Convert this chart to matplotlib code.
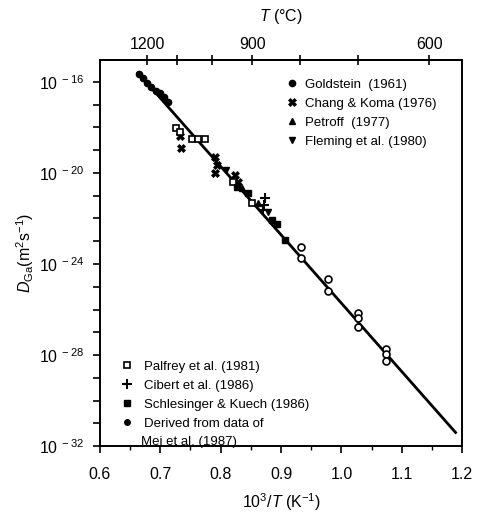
import numpy as np
import matplotlib
matplotlib.use("Agg")
import matplotlib.pyplot as plt
from matplotlib.ticker import FixedLocator

plt.rcParams['font.family'] = ['Liberation Sans', 'DejaVu Sans']
plt.rcParams['mathtext.fontset'] = 'custom'
plt.rcParams['mathtext.rm'] = 'Liberation Sans'
plt.rcParams['mathtext.it'] = 'Liberation Sans:italic'

# Ga self-diffusion data: x = 10^3/T (1/K), y = log10(D) (m^2/s)
goldstein_x = [0.665, 0.671, 0.678, 0.685, 0.693, 0.700, 0.706, 0.713]
goldstein_y = [-15.65, -15.82, -16.04, -16.22, -16.39, -16.48, -16.66, -16.88]

chang_x = [0.733, 0.734, 0.791, 0.794, 0.791, 0.824, 0.829]
chang_y = [-18.37, -18.89, -19.29, -19.64, -19.99, -20.08, -20.39]

petroff_x = [0.835, 0.862]
petroff_y = [-20.65, -21.30]

fleming_x = [0.809, 0.879]
fleming_y = [-19.86, -21.70]

palfrey_x = [0.726, 0.733, 0.753, 0.763, 0.774, 0.821, 0.852]
palfrey_y = [-18.02, -18.19, -18.50, -18.50, -18.50, -20.39, -21.31]

cibert_x = [0.874, 0.872, 0.870]
cibert_y = [-21.09, -21.39, -21.61]

schles_x = [0.827, 0.845, 0.885, 0.894, 0.907]
schles_y = [-20.61, -20.87, -22.05, -22.23, -22.93]

mei_x = [0.933, 0.933, 0.978, 0.978, 1.028, 1.028, 1.028, 1.073, 1.073, 1.073]
mei_y = [-23.24, -23.72, -24.68, -25.17, -26.13, -26.35, -26.75, -27.75, -27.97, -28.28]

# fitted Arrhenius line end points
fit_x = [0.663, 1.189]
fit_y = [-15.60, -31.40]

top_ticks = [1200, 1100, 1000, 900, 800, 700, 600]
top_labels = ['1200', '', '', '900', '', '', '600']

fig = plt.figure(figsize=(4.78, 5.17), dpi=100)
ax = fig.add_axes([0.209, 0.137, 0.758, 0.747])

ax.plot(fit_x, 10.0 ** np.array(fit_y), color='black', lw=2.0, zorder=2)

def p(x, y):
    return np.array(x), 10.0 ** np.array(y)

h1, = ax.plot(*p(goldstein_x, goldstein_y), 'o', ms=4.5, color='black', ls='none')
h2, = ax.plot(*p(chang_x, chang_y), 'X', ms=6, color='black', mew=0.5, ls='none')
h3, = ax.plot(*p(petroff_x, petroff_y), '^', ms=4.5, color='black', ls='none')
h4, = ax.plot(*p(fleming_x, fleming_y), 'v', ms=4.5, color='black', ls='none')
h5, = ax.plot(*p(palfrey_x, palfrey_y), 's', ms=5, mfc='white', mec='black', mew=1.2, ls='none')
h6, = ax.plot(*p(cibert_x, cibert_y), '+', ms=7, color='black', mew=1.5, ls='none')
h7, = ax.plot(*p(schles_x, schles_y), 's', ms=5, color='black', ls='none')
h8, = ax.plot(*p(mei_x, mei_y), 'o', ms=5, mfc='white', mec='black', mew=1.2, ls='none')
mei_key, = ax.plot([], [], 'o', ms=4, color='black', ls='none')

ax.set_yscale('log')
ax.set_xlim(0.6, 1.2)
ax.set_ylim(1e-32, 10 ** -15.04)

decades = np.arange(-32, -15)
ax.yaxis.set_major_locator(FixedLocator(10.0 ** decades))
ax.yaxis.set_minor_locator(FixedLocator([]))
ax.set_yticklabels([r'$10^{\ %d}$' % d if d % 4 == 0 else '' for d in decades])
ax.set_xticks([0.6, 0.7, 0.8, 0.9, 1.0, 1.1, 1.2])
ax.set_xticks(np.arange(0.65, 1.2, 0.1), minor=True)
ax.tick_params(axis='both', which='major', direction='out', length=5, width=1.2,
               labelsize=11.5, colors='black')
ax.tick_params(axis='x', which='minor', direction='out', length=3, width=1)
ax.tick_params(axis='x', pad=10)
ax.tick_params(axis='y', pad=6)
for s in ax.spines.values():
    s.set_linewidth(1.4)

ax.set_xlabel(r'$10^3/T$ (K$^{-1}$)', fontsize=11.5, labelpad=7)
ax.set_ylabel(r'$D_{\rm Ga}$(m$^2$s$^{-1}$)', fontsize=11.5, labelpad=2)

top = ax.secondary_xaxis('top', functions=(lambda x: 1000.0 / np.maximum(x, 1e-6) - 273.15,
                                           lambda t: 1000.0 / (t + 273.15)))
top.set_xticks(top_ticks)
top.set_xticklabels(top_labels)
top.tick_params(direction='inout', length=7, width=1.2, labelsize=11.5, pad=2)
top.set_xlabel(r'$T$ (°C)', fontsize=11.5, labelpad=12)
top.spines['top'].set_linewidth(1.4)

leg1 = ax.legend([h1, h2, h3, h4],
                 ['Goldstein  (1961)', 'Chang & Koma (1976)', 'Petroff  (1977)',
                  'Fleming et al. (1980)'],
                 loc='upper left', bbox_to_anchor=(0.50, 0.965), frameon=False,
                 fontsize=9.5, handlelength=0.8, handletextpad=0.6, labelspacing=0.5,
                 borderaxespad=0)
ax.add_artist(leg1)
ax.legend([h5, h6, h7, mei_key],
          ['Palfrey et al. (1981)', 'Cibert et al. (1986)', 'Schlesinger & Kuech (1986)',
           'Derived from data of'],
          loc='upper left', bbox_to_anchor=(0.045, 0.236), frameon=False,
          fontsize=9.5, handlelength=0.8, handletextpad=0.9, labelspacing=0.52,
          borderaxespad=0)
ax.text(0.114, 0.012, 'Mei et al. (1987)', transform=ax.transAxes, fontsize=9.5,
        va='center')

fig.savefig('out.png', dpi=100)
